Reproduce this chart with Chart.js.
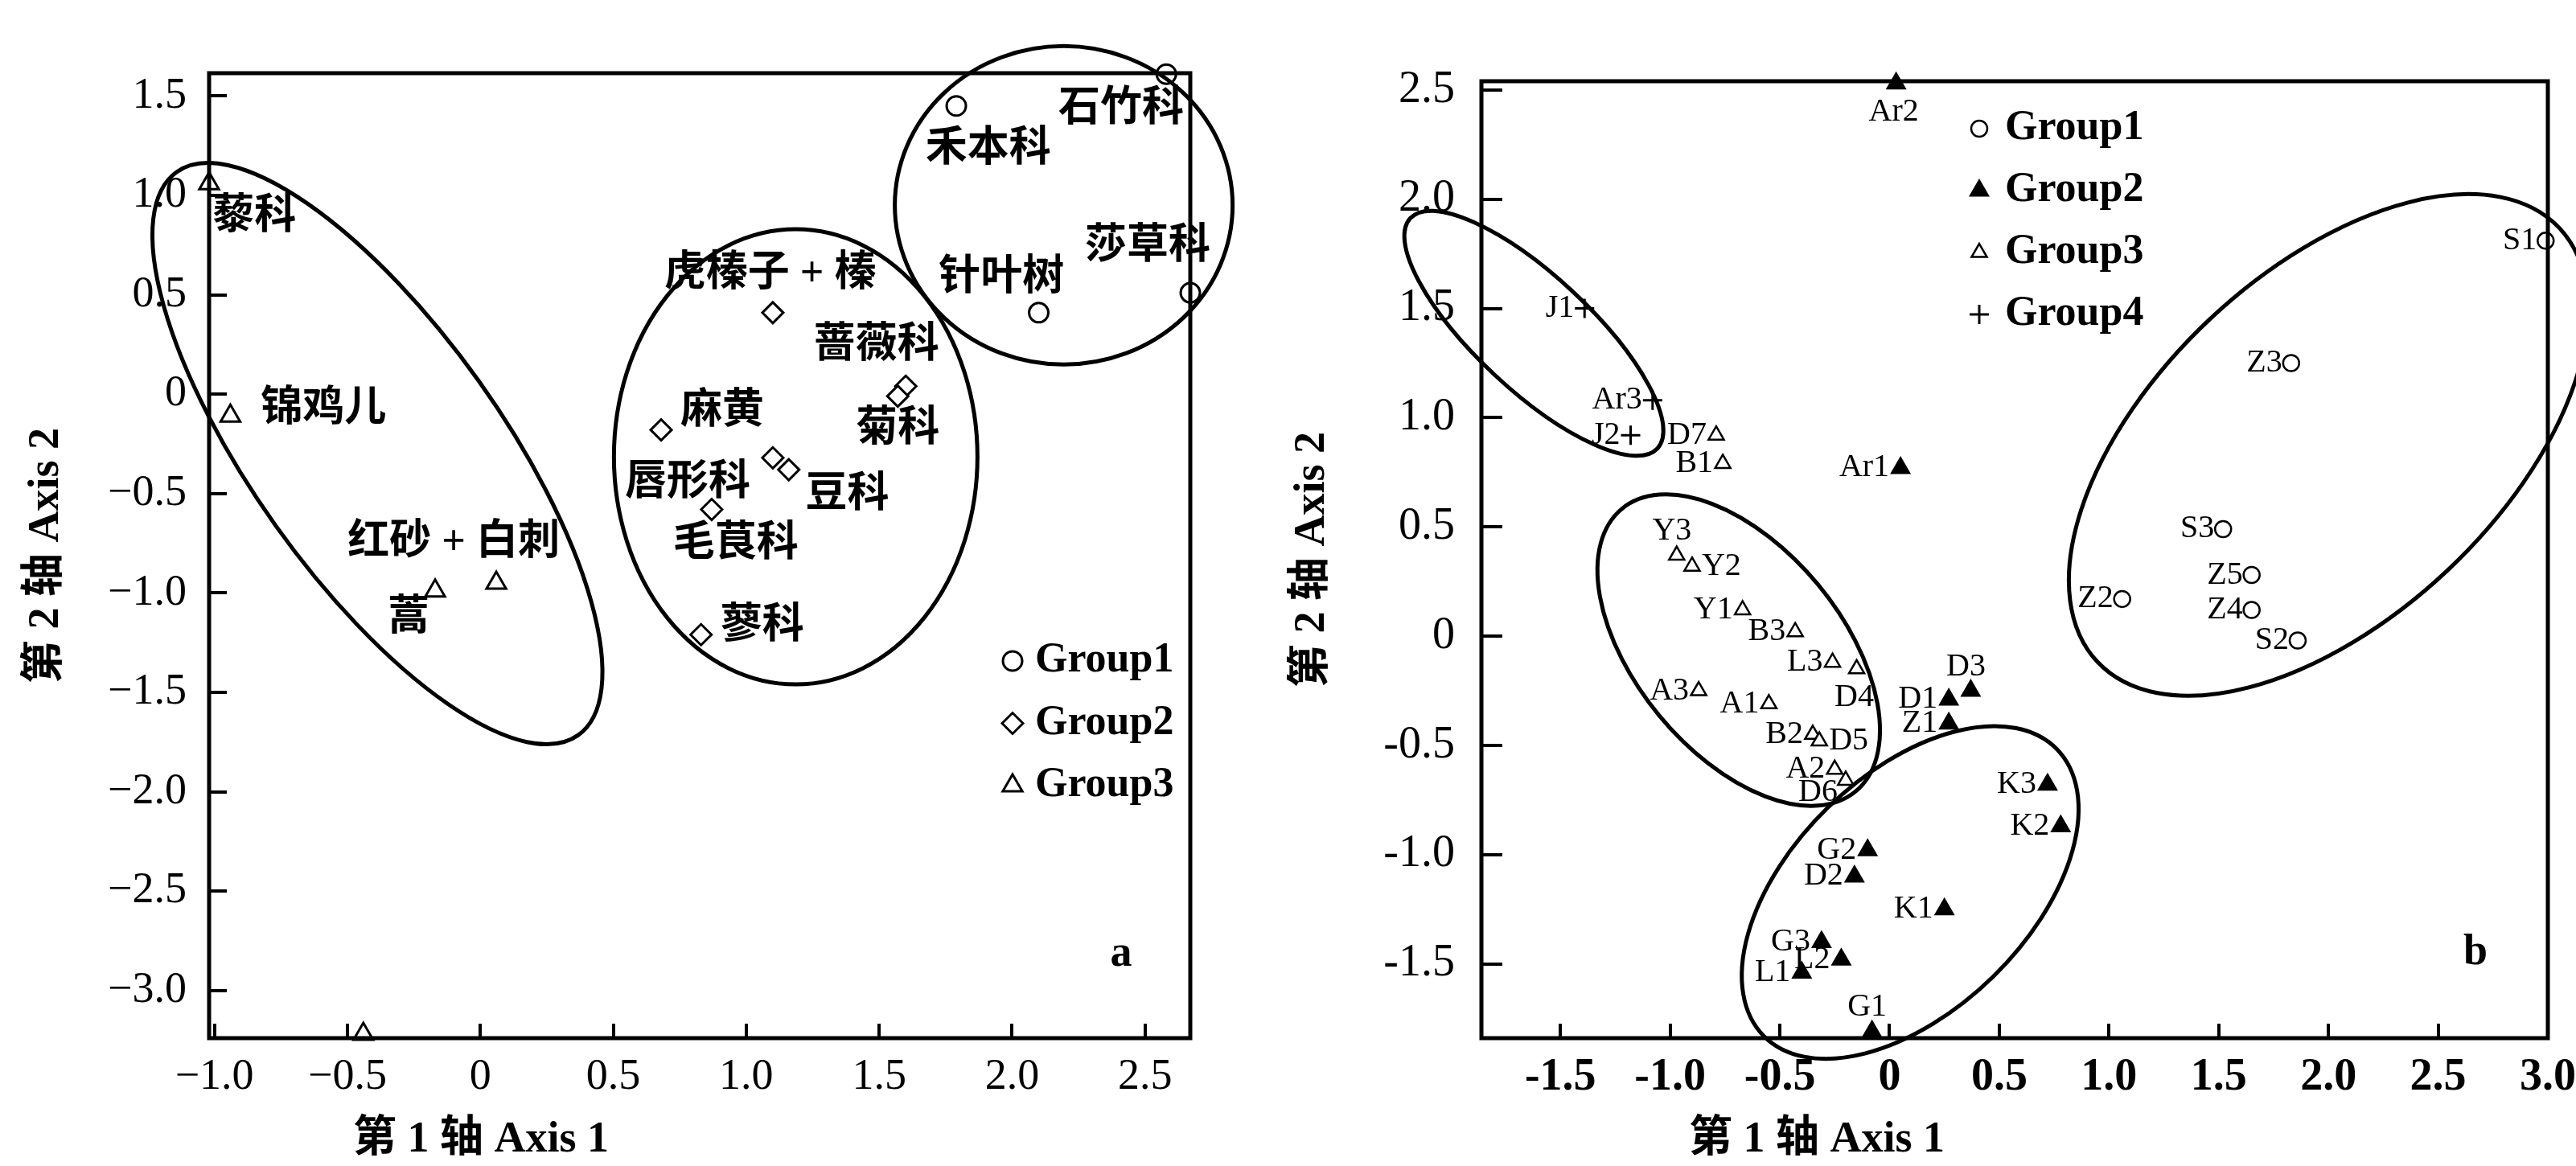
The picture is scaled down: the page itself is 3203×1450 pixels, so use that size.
<!DOCTYPE html>
<html>
<head>
<meta charset="utf-8">
<script src="https://cdn.jsdelivr.net/npm/chart.js@4.4.1/dist/chart.umd.min.js"></script>
<style>
  html, body { margin: 0; padding: 0; background: #fff; }
  #wrapA { position: absolute; left: 0; top: 0; width: 1600px; height: 1450px; }
  #wrapB { position: absolute; left: 1600px; top: 0; width: 1603px; height: 1450px; }
</style>
</head>
<body>
<div id="wrapA"><canvas id="chartA" width="1600" height="1450"></canvas></div>
<div id="wrapB"><canvas id="chartB" width="1603" height="1450"></canvas></div>
<script>
// ---- panel a : plant families ----
var aGroup1X = [2.58, 1.79, 2.10, 2.67];
var aGroup1Y = [1.61, 1.45, 0.41, 0.51];
var aGroup2X = [1.10, 1.60, 1.57, 0.68, 1.10, 1.16, 0.87, 0.83];
var aGroup2Y = [0.41, 0.04, -0.01, -0.18, -0.32, -0.38, -0.58, -1.21];
var aGroup3X = [-1.02, -0.94, -0.17, 0.06, -0.44];
var aGroup3Y = [1.06, -0.11, -0.99, -0.95, -3.22];

var aNames = ['石竹科', '禾本科', '莎草科', '针叶树', '虎榛子 + 榛', '蔷薇科', '麻黄', '菊科',
  '唇形科', '豆科', '毛茛科', '蓼科', '藜科', '锦鸡儿', '红砂 + 白刺', '蒿'];
var aNameX = [2.41, 1.91, 2.51, 1.96, 1.09, 1.49, 0.91, 1.57, 0.78, 1.38, 0.96, 1.06, -0.85, -0.59, -0.10, -0.27];
var aNameY = [1.43, 1.23, 0.74, 0.58, 0.60, 0.24, -0.09, -0.18, -0.45, -0.51, -0.76, -1.17, 0.89, -0.08, -0.75, -1.13];

var aTicksX = [-1.0, -0.5, 0, 0.5, 1.0, 1.5, 2.0, 2.5];
var aTicksY = [1.5, 1.0, 0.5, 0, -0.5, -1.0, -1.5, -2.0, -2.5, -3.0];

// ---- panel b : samples ----
var bGroup1Names = ['S1', 'Z3', 'S3', 'Z5', 'Z2', 'Z4', 'S2'];
var bGroup1X = [2.99, 1.83, 1.52, 1.65, 1.06, 1.65, 1.86];
var bGroup1Y = [1.81, 1.25, 0.49, 0.28, 0.17, 0.12, -0.02];

var bGroup2Names = ['Ar2', 'Ar1', 'D3', 'D1', 'Z1', 'K3', 'K2', 'G2', 'D2', 'K1', 'G3', 'L2', 'L1', 'G1'];
var bGroup2X = [0.03, 0.05, 0.37, 0.27, 0.27, 0.72, 0.78, -0.10, -0.16, 0.25, -0.31, -0.22, -0.40, -0.08];
var bGroup2Y = [2.53, 0.77, -0.25, -0.29, -0.40, -0.68, -0.87, -0.98, -1.10, -1.25, -1.40, -1.48, -1.54, -1.81];

var bGroup3Names = ['D7', 'B1', 'Y3', 'Y2', 'Y1', 'B3', 'L3', 'D4', 'A3', 'A1', 'B2', 'D5', 'A2', 'D6'];
var bGroup3X = [-0.79, -0.76, -0.97, -0.90, -0.67, -0.43, -0.26, -0.15, -0.87, -0.55, -0.35, -0.32, -0.25, -0.20];
var bGroup3Y = [0.92, 0.79, 0.37, 0.32, 0.12, 0.02, -0.12, -0.15, -0.25, -0.31, -0.45, -0.48, -0.61, -0.66];

var bGroup4Names = ['J1', 'Ar3', 'J2'];
var bGroup4X = [-1.39, -1.08, -1.18];
var bGroup4Y = [1.50, 1.08, 0.92];

var bTicksX = [-1.5, -1.0, -0.5, 0, 0.5, 1.0, 1.5, 2.0, 2.5, 3.0];
var bTicksY = [2.5, 2.0, 1.5, 1.0, 0.5, 0, -0.5, -1.0, -1.5];

// where a sample name sits against its marker (default: left)
var bSides = { Ar2: 'b', D3: 'a', G1: 'a', Y3: 'a', Y2: 'r', D5: 'r', D4: 'b', D6: 'bl' };

var SERIF = "'Liberation Serif', 'Noto Sans CJK SC', serif";
Chart.defaults.color = '#000';
Chart.defaults.font.family = SERIF;

function pts(xs, ys, names) {
  return xs.map(function (x, i) {
    var p = { x: x, y: ys[i] };
    if (names) p.name = names[i];
    return p;
  });
}

function fmtA(v) {
  if (v === 0) return '0';
  return v.toFixed(1).replace('-', '\u2212');
}
function fmtB(v) {
  if (v === 0) return '0';
  return v.toFixed(1);
}

var drawMark = Chart.helpers.drawPoint;

function notesPlugin(cfg) {
  return {
    id: 'notes',
    afterDraw: function (chart) {
      var ctx = chart.ctx;
      var sx = chart.scales.x, sy = chart.scales.y;
      var area = chart.chartArea;
      ctx.save();
      ctx.strokeStyle = '#000';
      ctx.fillStyle = '#000';
      ctx.lineWidth = 5;
      ctx.strokeRect(area.left, area.top, area.right - area.left, area.bottom - area.top);

      // group rings
      ctx.lineWidth = 5;
      cfg.rings.forEach(function (r) {
        ctx.beginPath();
        ctx.ellipse(sx.getPixelForValue(r.x), sy.getPixelForValue(r.y), r.rx, r.ry, r.rot * Math.PI / 180, 0, Math.PI * 2);
        ctx.stroke();
      });

      // free text
      ctx.textAlign = 'center';
      ctx.textBaseline = 'middle';
      cfg.notes.forEach(function (n) {
        ctx.font = n.font;
        ctx.fillText(n.text, sx.getPixelForValue(n.x), sy.getPixelForValue(n.y));
      });

      // sample names next to markers
      if (cfg.pointFont) {
        ctx.font = cfg.pointFont;
        chart.data.datasets.forEach(function (ds, i) {
          var meta = chart.getDatasetMeta(i);
          ds.data.forEach(function (d, j) {
            if (!d.name) return;
            var el = meta.data[j];
            var r = ds.pointRadius;
            var side = cfg.sides[d.name] || 'l';
            if (side === 'l') {
              ctx.textAlign = 'right';
              ctx.fillText(d.name, el.x - r - 1, el.y);
            } else if (side === 'r') {
              ctx.textAlign = 'left';
              ctx.fillText(d.name, el.x + r + 1, el.y);
            } else if (side === 'a') {
              ctx.textAlign = 'center';
              ctx.fillText(d.name, el.x - 6, el.y - 30);
            } else if (side === 'b') {
              ctx.textAlign = 'center';
              ctx.fillText(d.name, el.x - 3, el.y + 36);
            } else {
              ctx.textAlign = 'right';
              ctx.fillText(d.name, el.x - 10, el.y + 15);
            }
          });
        });
      }

      // legend
      var lg = cfg.legend;
      chart.data.datasets.forEach(function (ds, i) {
        var y = lg.y + i * lg.dy;
        ctx.fillStyle = ds.backgroundColor;
        ctx.strokeStyle = ds.borderColor;
        ctx.lineWidth = ds.borderWidth;
        drawMark(ctx, { pointStyle: ds.pointStyle, radius: ds.pointRadius, borderWidth: ds.borderWidth, rotation: 0 }, lg.x, y);
        ctx.fillStyle = '#000';
        ctx.font = lg.font;
        ctx.textAlign = 'left';
        ctx.textBaseline = 'middle';
        ctx.fillText(ds.label, lg.x + lg.tx, y);
      });

      // x axis title
      ctx.font = cfg.titleFont;
      ctx.textAlign = 'center';
      ctx.fillText(cfg.xTitle, cfg.xTitleAt[0], cfg.xTitleAt[1]);
      ctx.restore();
    }
  };
}

function axes(o) {
  return {
    x: {
      type: 'linear', min: o.xMin, max: o.xMax,
      afterBuildTicks: function (s) { s.ticks = o.ticksX.map(function (v) { return { value: v }; }); },
      afterFit: function (s) { s.height = 159; s.paddingLeft = 0; s.paddingRight = 0; },
      grid: { drawOnChartArea: false, drawTicks: true, tickLength: -18, lineWidth: 4, color: '#000' },
      border: { display: false },
      ticks: { padding: 34, autoSkip: false, maxRotation: 0, callback: o.fmt,
        font: { family: SERIF, size: o.xTickSize, weight: o.xTickWeight } }
    },
    y: {
      type: 'linear', min: o.yMin, max: o.yMax,
      afterBuildTicks: function (s) { s.ticks = o.ticksY.map(function (v) { return { value: v }; }); },
      afterFit: function (s) { s.width = o.yWidth; s.paddingTop = 0; s.paddingBottom = 0; },
      grid: { drawOnChartArea: false, drawTicks: true, tickLength: o.yTick, lineWidth: 4, color: '#000' },
      border: { display: false },
      ticks: { padding: o.yPad, autoSkip: false, callback: o.fmt,
        font: { family: SERIF, size: o.yTickSize } },
      title: { display: true, text: '第 2 轴 Axis 2', color: '#000',
        font: { family: SERIF, size: 54, weight: 'bold' }, padding: { top: o.titlePad, bottom: 0 } }
    }
  };
}

var commonPlugins = { legend: { display: false }, tooltip: { enabled: false } };

new Chart(document.getElementById('chartA'), {
  type: 'scatter',
  data: {
    datasets: [
      { label: 'Group1', data: pts(aGroup1X, aGroup1Y), pointStyle: 'circle', pointRadius: 12,
        borderWidth: 3, borderColor: '#000', backgroundColor: '#fff', clip: false },
      { label: 'Group2', data: pts(aGroup2X, aGroup2Y), pointStyle: 'rectRot', pointRadius: 13,
        borderWidth: 3, borderColor: '#000', backgroundColor: '#fff', clip: false },
      { label: 'Group3', data: pts(aGroup3X, aGroup3Y), pointStyle: 'triangle', pointRadius: 14,
        borderWidth: 3, borderColor: '#000', backgroundColor: '#fff', clip: false }
    ]
  },
  options: {
    responsive: false, animation: false, events: [],
    layout: { padding: { left: 0, top: 91, right: 120, bottom: 0 } },
    scales: axes({ xMin: -1.02, xMax: 2.67, yMin: -3.24, yMax: 1.615, ticksX: aTicksX, ticksY: aTicksY,
      fmt: fmtA, xTickSize: 54, xTickWeight: 'normal', yTickSize: 54, yWidth: 260, yTick: -22, yPad: 50, titlePad: 26 }),
    plugins: commonPlugins
  },
  plugins: [notesPlugin({
    rings: [
      { x: -0.387, y: -0.299, rx: 430, ry: 155, rot: 54.5 },
      { x: 1.186, y: -0.315, rx: 226, ry: 283, rot: 0 },
      { x: 2.194, y: 0.950, rx: 210, ry: 198, rot: 0 }
    ],
    notes: aNames.map(function (t, i) {
      return { text: t, x: aNameX[i], y: aNameY[i], font: 'bold 52px ' + SERIF };
    }).concat([{ text: 'a', x: 2.41, y: -2.82, font: 'bold 54px ' + SERIF }]),
    legend: { x: 1259, y: 822, dy: 77.5, tx: 28, font: 'bold 52px ' + SERIF },
    titleFont: 'bold 54px ' + SERIF,
    xTitle: '第 1 轴 Axis 1',
    xTitleAt: [598, 1418]
  })]
});

new Chart(document.getElementById('chartB'), {
  type: 'scatter',
  data: {
    datasets: [
      { label: 'Group1', data: pts(bGroup1X, bGroup1Y, bGroup1Names), pointStyle: 'circle', pointRadius: 10,
        borderWidth: 2.5, borderColor: '#000', backgroundColor: '#fff', clip: false },
      { label: 'Group2', data: pts(bGroup2X, bGroup2Y, bGroup2Names), pointStyle: 'triangle', pointRadius: 13,
        borderWidth: 2, borderColor: '#000', backgroundColor: '#000', clip: false },
      { label: 'Group3', data: pts(bGroup3X, bGroup3Y, bGroup3Names), pointStyle: 'triangle', pointRadius: 11,
        borderWidth: 2.5, borderColor: '#000', backgroundColor: '#fff', clip: false },
      { label: 'Group4', data: pts(bGroup4X, bGroup4Y, bGroup4Names), pointStyle: 'cross', pointRadius: 12,
        borderWidth: 3, borderColor: '#000', backgroundColor: '#000', clip: false }
    ]
  },
  options: {
    responsive: false, animation: false, events: [],
    layout: { padding: { left: 0, top: 101, right: 35, bottom: 0 } },
    scales: axes({ xMin: -1.86, xMax: 3.0, yMin: -1.84, yMax: 2.54, ticksX: bTicksX, ticksY: bTicksY,
      fmt: fmtB, xTickSize: 56, xTickWeight: 'bold', yTickSize: 56, yWidth: 242, yTick: -26, yPad: 59, titlePad: 0 }),
    plugins: commonPlugins
  },
  plugins: [notesPlugin({
    rings: [
      { x: -1.621, y: 1.386, rx: 210, ry: 71, rot: 43 },
      { x: -0.6875, y: -0.064, rx: 228, ry: 128, rot: 50.4 },
      { x: 0.094, y: -1.173, rx: 255, ry: 147, rot: -44.3 },
      { x: 2.0, y: 0.875, rx: 394, ry: 215, rot: -43.2 }
    ],
    notes: [{ text: 'b', x: 2.67, y: -1.45, font: 'bold 54px ' + SERIF }],
    pointFont: '40px ' + SERIF,
    sides: bSides,
    legend: { x: 861, y: 160, dy: 77, tx: 32, font: 'bold 52px ' + SERIF },
    titleFont: 'bold 54px ' + SERIF,
    xTitle: '第 1 轴 Axis 1',
    xTitleAt: [659, 1418]
  })]
});
</script>
</body>
</html>
